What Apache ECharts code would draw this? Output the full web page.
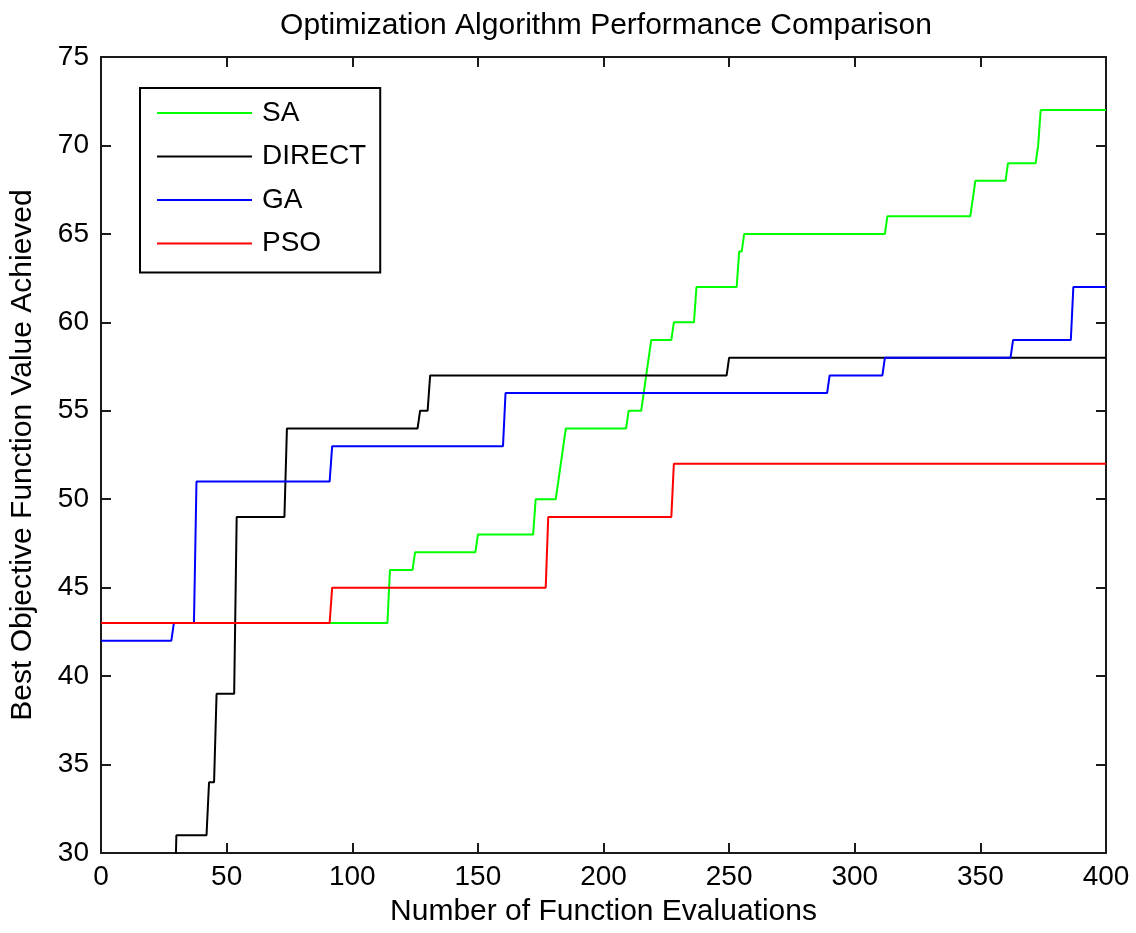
<!DOCTYPE html>
<html>
<head>
<meta charset="utf-8">
<title>Optimization Algorithm Performance Comparison</title>
<script src="https://cdn.jsdelivr.net/npm/echarts@6/dist/echarts.min.js"></script>
<style>
  html, body { margin: 0; padding: 0; background: #ffffff; }
  #chart { width: 1136px; height: 933px; }
</style>
</head>
<body>
<div id="chart"></div>
<script>
// Best objective value found so far, as [evaluation, value] breakpoints.
// Between two breakpoints with the same value the curve is flat; a jump
// happens between one evaluation and the next.
const seriesNames = ['SA', 'DIRECT', 'GA', 'PSO'];
const seriesColors = ['#00ff00', '#000000', '#0000ff', '#ff0000'];

const saData = [
  [0, 43], [114, 43], [115, 46], [124, 46], [125, 47], [149, 47], [150, 48],
  [172, 48], [173, 50], [181, 50], [182, 51], [183, 52], [184, 53], [185, 54],
  [209, 54], [210, 55], [215, 55], [216, 56], [217, 57], [218, 58], [219, 59],
  [227, 59], [228, 60], [236, 60], [237, 62], [253, 62], [254, 64], [255, 64],
  [256, 65], [312, 65], [313, 66], [346, 66], [348, 68], [360, 68], [361, 69],
  [372, 69], [373, 70], [374, 72], [400, 72]
];

const directData = [
  [0, 25], [29, 25], [30, 31], [42, 31], [43, 34], [45, 34], [46, 39],
  [53, 39], [54, 49], [73, 49], [74, 54], [126, 54], [127, 55], [130, 55],
  [131, 57], [249, 57], [250, 58], [400, 58]
];

const gaData = [
  [0, 42], [28, 42], [29, 43], [37, 43], [38, 51], [91, 51], [92, 53],
  [160, 53], [161, 56], [289, 56], [290, 57], [311, 57], [312, 58],
  [362, 58], [363, 59], [386, 59], [387, 62], [400, 62]
];

const psoData = [
  [0, 43], [91, 43], [92, 45], [177, 45], [178, 49], [227, 49], [228, 52],
  [400, 52]
];

const xTicks = { min: 0, max: 400, interval: 50 };
const yTicks = { min: 30, max: 75, interval: 5 };

const FONT = "'Liberation Sans', Arial, Helvetica, sans-serif";
const INK = '#000000';
const AXIS = '#1a1a1a';

const chart = echarts.init(document.getElementById('chart'), null, { renderer: 'canvas' });

const allData = [saData, directData, gaData, psoData];

const boxAxisLine = { show: true, onZero: false, lineStyle: { color: AXIS, width: 2 } };
const insideTick = { show: true, inside: true, length: 10, lineStyle: { color: AXIS, width: 2 } };

chart.setOption({
  animation: false,
  backgroundColor: '#ffffff',
  title: {
    text: 'Optimization Algorithm Performance Comparison',
    left: 601,
    textAlign: 'center',
    top: 6,
    textStyle: { fontFamily: FONT, fontSize: 30, fontWeight: 'normal', color: INK }
  },
  grid: { left: 101, top: 57, width: 1005, height: 796, containLabel: false },
  legend: {
    orient: 'vertical',
    left: 140,
    top: 88,
    padding: [11, 14, 15, 17],
    itemGap: 15.5,
    itemWidth: 95,
    itemHeight: 2,
    icon: 'rect',
    borderColor: '#000000',
    borderWidth: 2,
    borderRadius: 0,
    backgroundColor: '#ffffff',
    data: seriesNames,
    textStyle: {
      fontFamily: FONT, fontSize: 28, color: INK, lineHeight: 28,
      padding: [0, 0, 0, 5]
    }
  },
  xAxis: [
    {
      type: 'value', position: 'bottom',
      min: xTicks.min, max: xTicks.max, interval: xTicks.interval,
      name: 'Number of Function Evaluations',
      nameLocation: 'middle', nameGap: 44,
      nameTextStyle: { fontFamily: FONT, fontSize: 30, color: INK },
      axisLine: boxAxisLine, axisTick: insideTick,
      axisLabel: { fontFamily: FONT, fontSize: 28, color: INK, margin: 10 },
      splitLine: { show: false }
    },
    {
      type: 'value', position: 'top',
      min: xTicks.min, max: xTicks.max, interval: xTicks.interval,
      axisLine: boxAxisLine, axisTick: insideTick,
      axisLabel: { show: false }, splitLine: { show: false }
    }
  ],
  yAxis: [
    {
      type: 'value', position: 'left',
      min: yTicks.min, max: yTicks.max, interval: yTicks.interval,
      name: 'Best Objective Function Value Achieved',
      nameLocation: 'middle', nameGap: 63, nameRotate: 90,
      nameTextStyle: { fontFamily: FONT, fontSize: 30, color: INK },
      axisLine: boxAxisLine, axisTick: insideTick,
      axisLabel: { fontFamily: FONT, fontSize: 28, color: INK, margin: 12 },
      splitLine: { show: false }
    },
    {
      type: 'value', position: 'right',
      min: yTicks.min, max: yTicks.max, interval: yTicks.interval,
      axisLine: boxAxisLine, axisTick: insideTick,
      axisLabel: { show: false }, splitLine: { show: false }
    }
  ],
  series: seriesNames.map((name, i) => ({
    name: name,
    type: 'line',
    xAxisIndex: 0,
    yAxisIndex: 0,
    data: allData[i],
    symbol: 'none',
    clip: true,
    color: seriesColors[i],
    lineStyle: { color: seriesColors[i], width: 2 },
    emphasis: { disabled: true }
  }))
});
</script>
</body>
</html>
